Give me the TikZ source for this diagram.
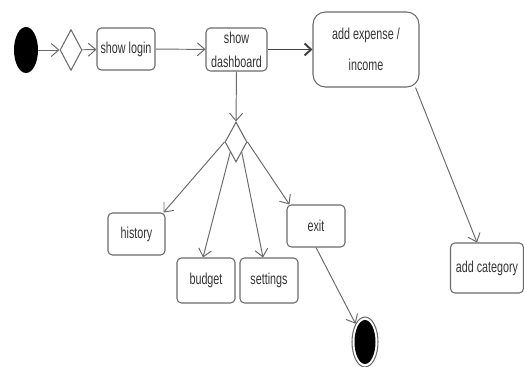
\documentclass[tikz,border=0pt]{standalone}
\usepackage{fontspec}
\setmainfont{Liberation Sans}[FakeStretch=0.68]
\usepackage{tikz}
\usetikzlibrary{positioning, arrows.meta, shapes.geometric}
\usepackage{xcolor}

\definecolor{linegray}{HTML}{6A6A6A}
\definecolor{textgray}{HTML}{333333}

\begin{document}
\begin{tikzpicture}[x=0.02cm, y=-0.02cm,
    activity/.style={draw=linegray, line width=0.6pt, rounded corners=2.5pt, align=center,
        text=textgray, font=\fontsize{9}{12.5}\selectfont, inner sep=1pt},
    decision/.style={draw=linegray, line width=0.6pt, diamond, inner sep=0pt,
        minimum width=0.44cm, minimum height=0.82cm},
    flow/.style={draw=linegray, line width=0.55pt, -{Straight Barb[length=1.5mm, width=2.6mm]}},
    mainflow/.style={draw=black!75, line width=1.1pt, -{Straight Barb[length=1.3mm, width=2.4mm]}}]
    \useasboundingbox (0,0) rectangle (524,367);

    % Initial node and first decision
    \node[ellipse, fill=black, minimum width=0.48cm, minimum height=0.92cm, inner sep=0pt] (start) at (26,50) {};
    \node[decision] (check) at (71,50) {};

    % Top row of activities
    \node[activity, minimum width=1.16cm, minimum height=0.84cm] (login) at (126,49) {show login};
    \node[activity, minimum width=1.22cm, minimum height=0.86cm] (dashboard) at (236.5,49.5) {show\\[1pt]dashboard};
    \node[activity, rounded corners=7pt, minimum width=2.12cm, minimum height=1.5cm] (expense) at (366,49.5) {add expense /\\[5pt]income};
    \node[activity, minimum width=1.46cm, minimum height=1.0cm] (category) at (487,268) {add category};

    % Menu decision and its branches
    \node[decision, minimum height=0.8cm] (menu) at (236,142) {};
    \node[activity, minimum width=1.14cm, minimum height=0.84cm] (history) at (136.5,234) {history};
    \node[activity, minimum width=1.16cm, minimum height=0.9cm] (budget) at (206,280.5) {budget};
    \node[activity, minimum width=1.16cm, minimum height=0.9cm] (settings) at (269,280.5) {settings};
    \node[activity, minimum width=1.16cm, minimum height=0.84cm] (exit) at (316,226) {exit};

    % Final node
    \node[ellipse, draw=linegray, line width=0.6pt, fill=white, minimum width=0.52cm, minimum height=1.0cm, inner sep=0pt] (final) at (365,342) {};
    \fill[black] (final.center) ellipse [x radius=0.21cm, y radius=0.44cm];

    % Connectors
    \draw[flow] (start) -- (check);
    \draw[flow] (check) -- (login);
    \draw[flow] (login) -- (dashboard);
    \draw[mainflow] (dashboard) -- (expense);
    \draw[flow] ([xshift=-0.08cm]expense.south east) -- ([xshift=-0.2cm]category.north);
    \draw[flow] (dashboard.south) -- (menu.north);
    \draw[flow] (menu.west) -- ([xshift=-0.04cm]history.north east);
    \draw[flow] (menu.south west) -- ([xshift=-0.06cm]budget.north);
    \draw[flow] (menu.south east) -- ([xshift=-0.12cm]settings.north);
    \draw[flow] (menu.east) -- ([xshift=0.06cm]exit.north west);
    \draw[flow] (exit.south) -- (final);

\end{tikzpicture}
\end{document}
